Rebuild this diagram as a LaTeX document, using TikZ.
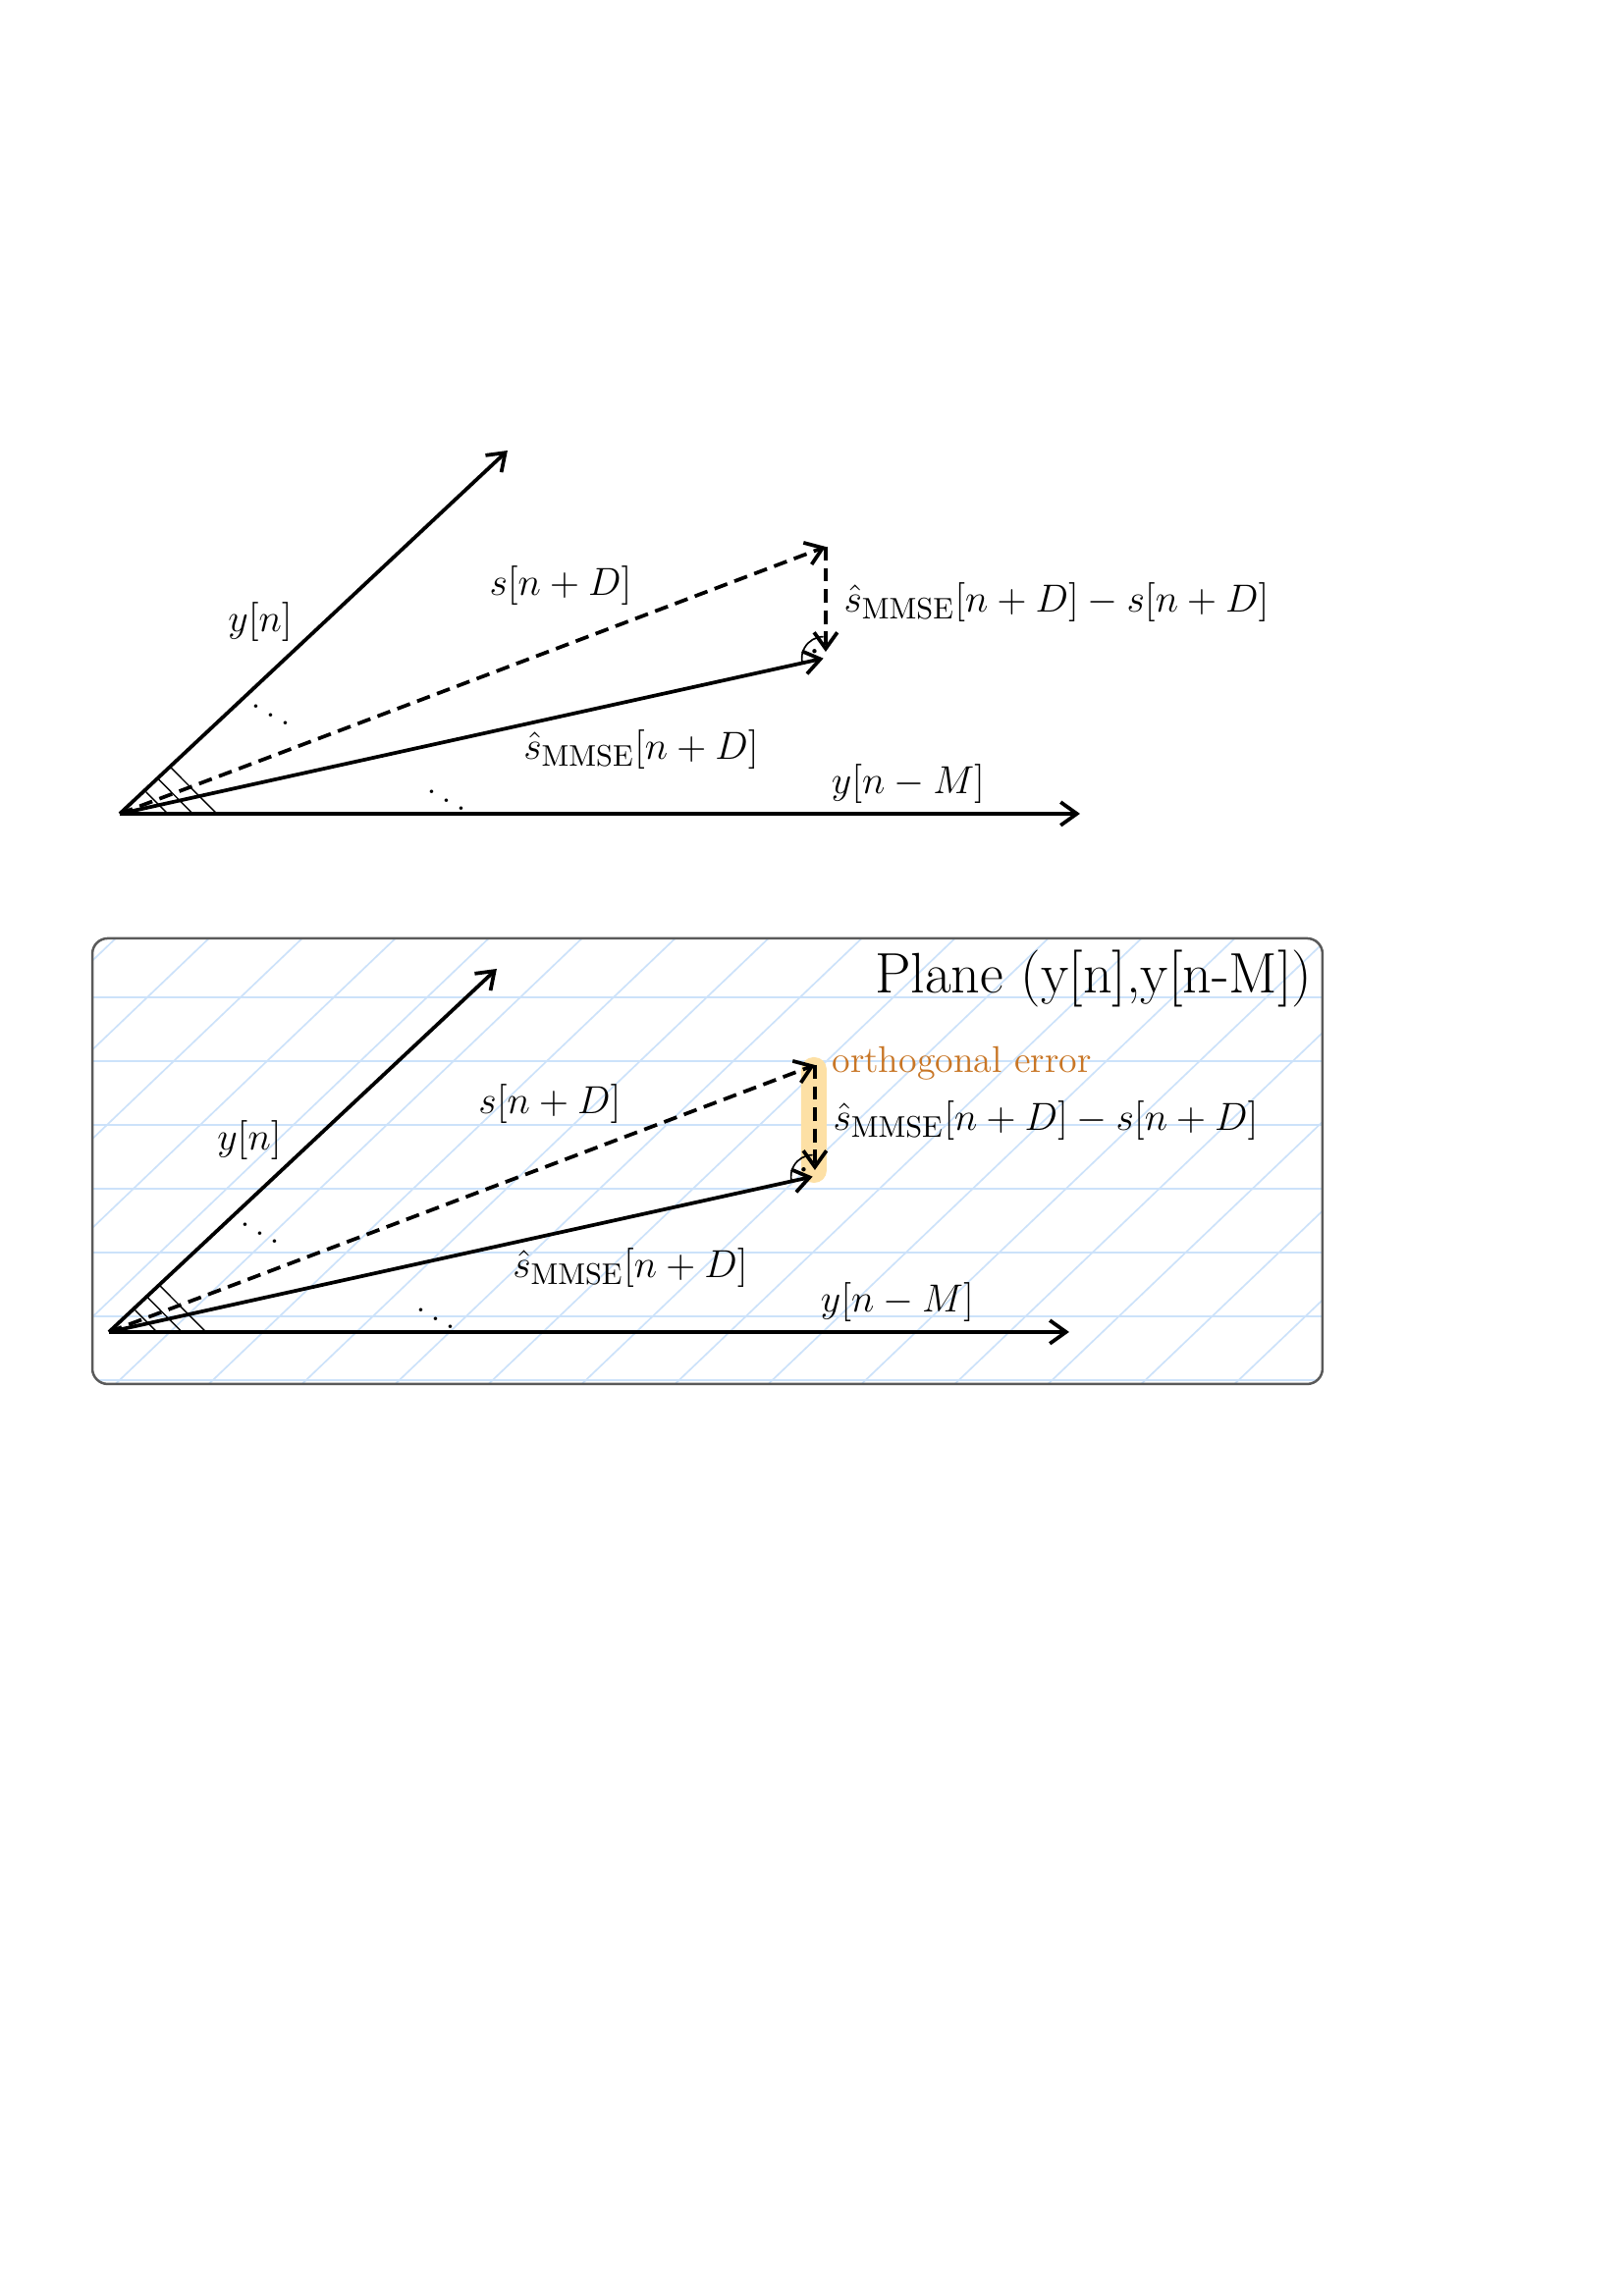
\documentclass[tikz,border=0pt]{standalone}
\usepackage{amsmath}
\usetikzlibrary{arrows.meta,calc}

\definecolor{gridblue}{RGB}{204,226,250}
\definecolor{errfill}{RGB}{253,224,165}
\definecolor{errtext}{RGB}{200,118,38}
\definecolor{boxgray}{RGB}{90,90,90}

\tikzset{
  vec/.style={line width=1.35pt, -{Straight Barb[length=2.1mm,width=3mm]}},
  dvec/.style={vec, dash pattern=on 5pt off 2.8pt},
  lbl/.style={font=\fontsize{15.8}{19}\selectfont},
  gridline/.style={gridblue, line width=0.6pt},
}

% one copy of the projection sketch, origin at (0,0)
\newcommand{\drawprojection}{%
  \coordinate (O) at (0,0);
  \coordinate (yn) at (5.015,4.698);
  \coordinate (s) at (9.129,3.454);
  \coordinate (shat) at (9.10,2.01);
  \coordinate (err) at (9.129,2.095);
  \coordinate (ynm) at (12.418,0);
  % vectors
  \draw[vec] (O) -- (yn);
  \draw[vec] (O) -- (ynm);
  \draw[vec] (O) -- (shat);
  \draw[dvec] (O) -- (s);
  \draw[dvec] (s) -- (err);
  % right angle
  \draw[line width=0.6pt] ($(shat)+(0,0.28)$) arc[start angle=90, end angle=192, radius=0.28];
  \fill ($(shat)+(141:0.15)$) circle (0.8pt);
  % hatching at the origin
  \foreach \r in {0.44,0.67,0.89}
    \draw[line width=0.5pt] ($(O)+(43.1:\r)$) -- ($(O)+({1.41*\r},0)$);
  % labels
  \node[lbl] (yn-label) at (1.816,2.476) {$y[n]$};
  \node[lbl] (s-label) at (5.701,2.946) {$s[n+D]$};
  \node[lbl, anchor=west, inner sep=0pt] (err-label) at (9.358,2.730)
    {$\hat{s}_{\mathrm{MMSE}}[n+D]-s[n+D]$};
  \node[lbl] (shat-label) at (6.742,0.825) {$\hat{s}_{\mathrm{MMSE}}[n+D]$};
  \node[lbl] (ynm-label) at (10.196,0.381) {$y[n-M]$};
  \node[lbl] (dots-a) at (1.955,1.384) {$\ddots$};
  \node[lbl] (dots-b) at (4.228,0.279) {$\ddots$};
}

\begin{document}
\begin{tikzpicture}
  \useasboundingbox (0,0) rectangle (21,-29.7);

  % upper sketch
  \begin{scope}[shift={(1.549,-10.526)}]
    \drawprojection
  \end{scope}

  % ruled paper of the plane
  \begin{scope}
    \clip[rounded corners=0.2cm] (1.194,-12.138) rectangle (17.103,-17.903);
    \fill[white] (1.194,-12.138) rectangle (17.103,-17.903);
    \foreach \k in {0,...,6}
      \draw[gridline] (1.194,{-12.900-0.8253*\k}) -- (17.103,{-12.900-0.8253*\k});
    \foreach \k in {-2,...,17}
      \draw[gridline] ({1.905+1.206*\k},-12.9) ++(223.7:7.5) -- ++(43.7:9);
  \end{scope}

  % highlight of the error
  \fill[errfill, rounded corners=0.16cm] (10.361,-13.675) rectangle (10.691,-15.300);

  % lower sketch
  \begin{scope}[shift={(1.409,-17.230)}]
    \drawprojection
  \end{scope}

  \node[anchor=base west, inner sep=0pt, text=errtext, font=\fontsize{13.7}{16}\selectfont]
    (orth-label) at (10.754,-13.878) {orthogonal error};
  \node[anchor=base east, inner sep=0pt, font=\fontsize{21}{25}\selectfont]
    (plane-title) at (16.976,-12.84) {Plane (y[n],y[n-M])};

  \draw[boxgray, line width=0.9pt, rounded corners=0.2cm]
    (1.194,-12.138) rectangle (17.103,-17.903);
\end{tikzpicture}
\end{document}
